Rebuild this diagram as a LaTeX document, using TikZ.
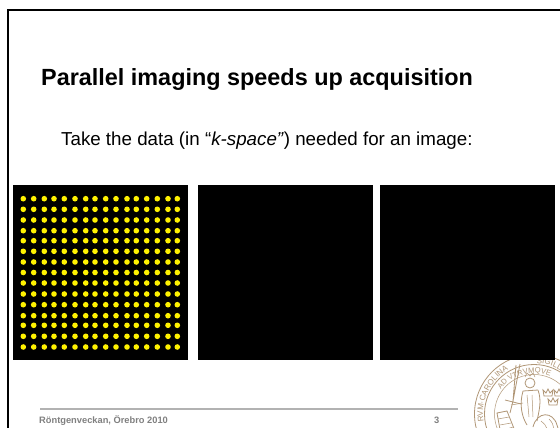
\documentclass[tikz,border=0pt]{standalone}
\usepackage{fontspec}
\setmainfont{Liberation Sans}
\usetikzlibrary{decorations.text}
\definecolor{sealbrown}{RGB}{176,150,118}
\definecolor{footgray}{RGB}{128,128,128}
\tikzset{
  panel/.style={fill=black,draw=none},
  dot/.style={fill=yellow,draw=none},
  sealline/.style={draw=sealbrown,line width=0.8pt},
  sealthin/.style={draw=sealbrown,line width=0.5pt},
  footer/.style={text=footgray,font=\bfseries\fontsize{9.3}{11}\selectfont,inner sep=0pt},
}
\begin{document}
\begin{tikzpicture}[x=1pt,y=-1pt]
\useasboundingbox (0,0) rectangle (560,428);
\fill[white] (0,0) rectangle (560,428);
% seal
\begin{scope}
\clip (0,0) rectangle (560,428);
\begin{scope}[shift={(534,414)}]
\draw[sealline] (0,0) circle[radius=59.5];
\draw[sealline] (0,0) circle[radius=49.5];
\draw[sealthin] (0,0) circle[radius=39.5];
\path[postaction={decorate},decoration={text along path,text align=left,
  text={|\fontsize{8}{9}\selectfont\color{sealbrown}|RVM·CAROLINA}}]
  (171:51) arc[start angle=171,end angle=250,radius=51];
\path[postaction={decorate},decoration={text along path,text align=left,
  text={|\fontsize{8}{9}\selectfont\color{sealbrown}|SIGILLVM}}]
  (273:51) arc[start angle=273,end angle=350,radius=51];
\path[postaction={decorate},decoration={text along path,text align=left,
  text={|\fontsize{7.6}{8}\selectfont\color{sealbrown}|AD VTRVMQVE}}]
  (216:41) arc[start angle=216,end angle=305,radius=41];
\end{scope}
\begin{scope}[shift={(535,417)}]
% sword
\draw[sealline] (-22,-16) -- (-15,-53) (-22,-16) -- (-19,-52);
\draw[sealline] (-30,-17) -- (-14,-13) (-25,-4) -- (-22,-16);
% figure
\draw[sealline] (-5,-34) circle[radius=5];
\draw[sealthin] (-10,-40) -- (-8,-44) -- (-5,-41) -- (-2,-44) -- (0,-40);
\draw[sealline] (-12,-26) .. controls (-16,-12) and (-13,0) .. (-8,8)
  (3,-27) .. controls (7,-16) and (4,-6) .. (2,4)
  (-12,-26) -- (3,-27);
\draw[sealthin] (-8,-22) -- (-6,0) (-3,-22) -- (-2,0) (-12,-14) -- (-24,-12);
% three crowns
\foreach \cx/\cy in {13/-24,24/-24,18/-15}{
  \draw[sealline] (\cx-4,\cy+3) -- (\cx-5,\cy-3) -- (\cx-2,\cy) -- (\cx,\cy-4) -- (\cx+2,\cy) -- (\cx+5,\cy-3) -- (\cx+4,\cy+3) -- cycle;
}
% lion
\draw[sealline] (-2,10) .. controls (2,-6) and (18,-6) .. (22,8)
  .. controls (26,16) and (18,24) .. (8,24) -- (-6,24);
\draw[sealthin] (6,4) .. controls (12,8) and (14,14) .. (10,20)
  (14,2) .. controls (20,8) and (20,14) .. (16,20);
% throne
\draw[sealline] (-38,-4) -- (-28,-6) -- (-20,14) -- (-34,18) -- cycle;
\draw[sealthin] (-37,2) -- (-26,0) (-35,8) -- (-24,6) (-34,14) -- (-22,10);
\draw[sealline] (-30,16) -- (-6,24) (-30,30) -- (-6,30);
\foreach \i in {-28,-24,...,-8}{\draw[sealthin] (\i,18) -- (\i,30);}
\end{scope}
\end{scope}
% frame
\draw[black,line width=2pt] (8,428) -- (8,10) -- (560,10);
% panels
\fill[panel] (13,185) rectangle (188,360);
\fill[panel] (198,185) rectangle (373.3,360);
\fill[panel] (379.5,185) rectangle (555,360);
\foreach \px in {23.3,33.7,44.3,54,64.3,75,85.7,95,105.7,116,127,136.3,146.7,157.3,168,177.3}{
  \foreach \py in {198.7,209.3,220,230.7,240.7,251.3,262,272.5,283,294,304.7,315.7,325.3,336.3,347}{
    \fill[dot] (\px,\py) circle[radius=2.8];
  }
}
% text
\node[anchor=base west,inner sep=0pt,font=\bfseries\fontsize{23.4}{28}\selectfont] (title) at (41,86) {Parallel imaging speeds up acquisition};
\node[anchor=base west,inner sep=0pt,font=\fontsize{18.75}{22}\selectfont] (body) at (61,145) {Take the data (in “\textit{k-space”}) needed for an image:};
% footer
\coordinate (fl) at (40,409);
\coordinate (fr) at (457.5,409);
\draw[line width=1.2pt,draw=black!30] (fl) -- (fr);
\node[footer,anchor=base west] (ftext) at (39,423.6) {Röntgenveckan, Örebro 2010};
\node[footer,anchor=base] (fnum) at (436.7,423.6) {3};
\end{tikzpicture}
\end{document}
